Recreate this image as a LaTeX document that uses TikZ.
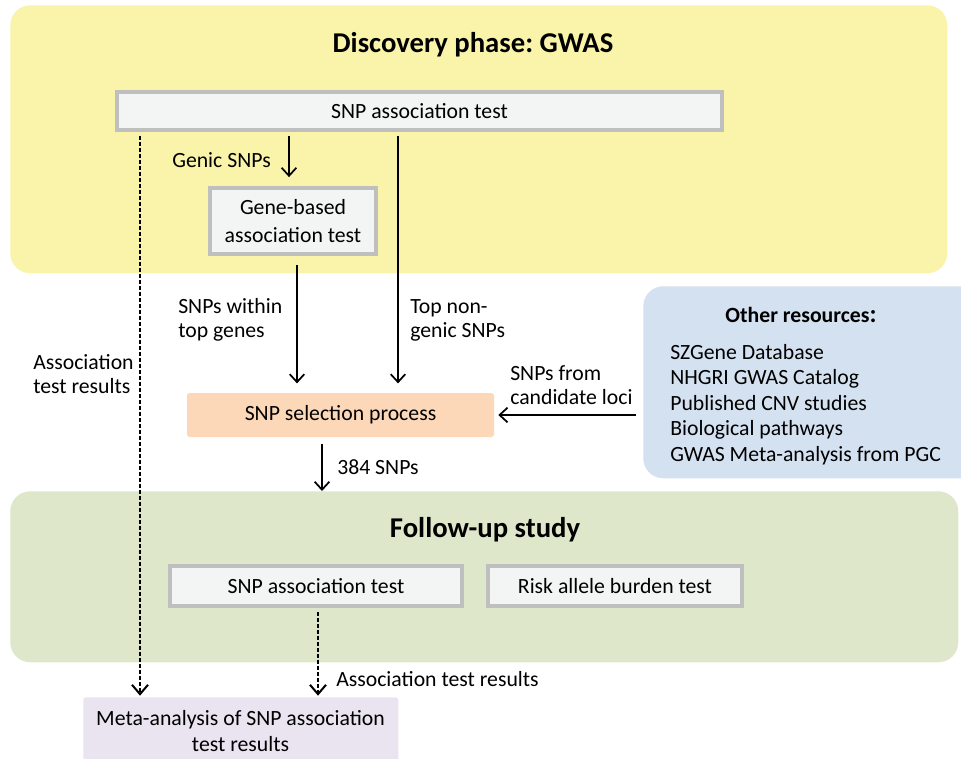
\documentclass[tikz,border=0pt]{standalone}
\usepackage{fontspec}
\setmainfont{Carlito}
\usetikzlibrary{arrows.meta,positioning}

\definecolor{gwasyellow}{HTML}{F9F4A9}
\definecolor{followgreen}{HTML}{DFE7CA}
\definecolor{resblue}{HTML}{D4E1F0}
\definecolor{selorange}{HTML}{FCD8B8}
\definecolor{metapurple}{HTML}{E9E4EF}
\definecolor{boxfill}{HTML}{F3F5F5}
\definecolor{boxgray}{HTML}{BFBFBF}

\tikzset{
  phase/.style={rounded corners=15pt, inner sep=0pt},
  graybox/.style={draw=boxgray, line width=2.4pt, fill=boxfill, inner sep=0pt, align=center},
  flatbox/.style={rounded corners=2pt, inner sep=0pt, align=center},
  lbl/.style={inner sep=0pt, align=left},
  tip/.style={-{Straight Barb[length=6pt,width=11pt,line width=1.3pt]}},
  arr/.style={line width=1.1pt, tip},
  thin/.style={line width=0.8pt, tip},
  darr/.style={line width=0.8pt, dash pattern=on 3pt off 1.5pt, -{Straight Barb[length=7pt,width=12pt,line width=1.5pt]}}
}

\begin{document}
\frenchspacing
\begin{tikzpicture}[x=0.75pt, y=-0.75pt, font=\fontsize{16.3}{18}\selectfont]
        \useasboundingbox (0,0) rectangle (961,758);
        \clip (0,0) rectangle (961,758);

        % background phases
        \node (gwas) [phase, fill=gwasyellow, anchor=north west, minimum width=937*0.75pt, minimum height=268*0.75pt] at (10,5) {};
        \node (follow) [phase, fill=followgreen, anchor=north west, minimum width=948*0.75pt, minimum height=171*0.75pt] at (10,491) {};
        \node (res) [phase, fill=resblue, anchor=north west, minimum width=340*0.75pt, minimum height=192*0.75pt] at (643,286) {};

        \node (gwastitle) [font=\fontsize{21.5}{24}\selectfont\bfseries] at (473,45) {Discovery phase: GWAS};
        \node (followtitle) [font=\fontsize{21.5}{24}\selectfont\bfseries] at (485,530) {Follow-up study};

        % boxes
        \node (snptop) [graybox, minimum width=605*0.75pt, minimum height=38*0.75pt] at (419.5,111) {SNP association test};
        \node (genebox) [graybox, minimum width=166*0.75pt, minimum height=66*0.75pt, font=\fontsize{16.3}{21}\selectfont] at (293,221) {Gene-based\\association test};
        \node (select) [flatbox, fill=selorange, minimum width=307*0.75pt, minimum height=44*0.75pt] at (340.5,415) {SNP selection process};
        \node (snpfollow) [graybox, minimum width=292*0.75pt, minimum height=40*0.75pt] at (316,586) {SNP association test};
        \node (burden) [graybox, minimum width=254*0.75pt, minimum height=40*0.75pt] at (615,586) {Risk allele burden test};
        \node (meta) [flatbox, fill=metapurple, anchor=north west, minimum width=315*0.75pt, minimum height=70*0.75pt] at (83,697) {};
        \node (metatext) [align=center, inner sep=0pt, font=\fontsize{16.3}{19.5}\selectfont] at (240.5,731) {Meta-analysis of SNP association\\test results};

        % other resources
        \node (restitle) [font=\fontsize{16.3}{19}\selectfont\bfseries] at (801,315) {Other resources{\fontsize{19}{19}\selectfont:}};
        \node (reslist) [lbl, anchor=north west, font=\fontsize{16.3}{19.1}\selectfont] at (670,344) {SZGene Database\\NHGRI GWAS Catalog\\Published CNV studies\\Biological pathways\\GWAS Meta-analysis from PGC};

        % helper columns
        \coordinate (dashx) at (140,0);
        \coordinate (topx) at (398,0);
        \coordinate (genicx) at (289,0);
        \coordinate (hitx) at (297,0);
        \coordinate (selx) at (322,0);
        \coordinate (followx) at (318,0);

        % connectors
        \draw [arr, shorten <=3pt, shorten >=7pt] (snptop.south -| genicx) -- (genebox.north -| genicx);
        \draw [thin, shorten <=3pt, shorten >=7pt] (snptop.south -| topx) -- (select.north -| topx);
        \draw [thin, shorten <=7pt, shorten >=7pt] (genebox.south -| hitx) -- (select.north -| hitx);
        \draw [darr, shorten <=3pt, shorten >=1pt] (snptop.south -| dashx) -- (meta.north -| dashx);
        \draw [thin, shorten <=5pt, shorten >=0pt] (select.south -| selx) -- (follow.north -| selx);
        \draw [thin, shorten <=5pt, shorten >=3pt] (res.west |- select) -- (select.east);
        \draw [darr, shorten <=3pt, shorten >=1pt] (snpfollow.south -| followx) -- (meta.north -| followx);

        % connector labels
        \node (lgenic) [lbl, anchor=east] at (271,160) {Genic SNPs};
        \node (lhits) [lbl, anchor=west] at (178,320) {SNPs within\\top genes};
        \node (ltop) [lbl, anchor=west] at (410,320) {Top non-\\genic SNPs};
        \node (lassoc) [lbl, anchor=west] at (33,374) {Association\\test results};
        \node (lcand) [lbl, anchor=west] at (510,385) {SNPs from\\candidate loci};
        \node (lsel) [lbl, anchor=west] at (337,467) {384 SNPs};
        \node (lfollow) [lbl, anchor=west] at (336,679) {Association test results};
\end{tikzpicture}
\end{document}
